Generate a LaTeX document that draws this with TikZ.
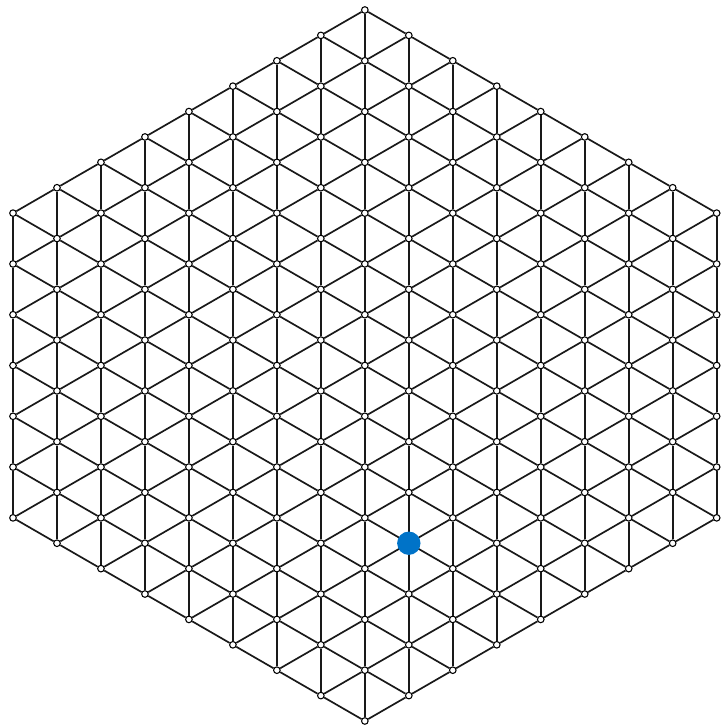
\documentclass[tikz,border=0pt]{standalone}
\usepackage{tikz}
\definecolor{siteblue}{RGB}{0,115,200}
\tikzset{
  site/.style={circle, draw=black, fill=white, line width=0.6pt,
    inner sep=0pt, minimum size=1.3mm},
  bond/.style={line width=0.95pt, black!90},
  marked/.style={circle, fill=siteblue, inner sep=0pt, minimum size=4.6mm}
}

\begin{document}
\begin{tikzpicture}[x=0.8660cm, y=1cm]

  \useasboundingbox (-0.256cm,-0.079cm) rectangle (13.935cm,14.197cm);

  % === SITES ===
  \foreach \i in {0,...,16} {
    \pgfmathtruncatemacro\len{14-abs(8-\i)}
    \foreach \k in {0,...,\len} {
      \node[site] (n-\i-\k) at (\i, {abs(8-\i)/2+\k}) {};
    }
  }

  % Vertical bonds
  \foreach \i in {0,...,16} {
    \pgfmathtruncatemacro\len{14-abs(8-\i)}
    \foreach \k in {1,...,\len} {
      \pgfmathtruncatemacro\dn{\k-1}
      \draw[bond] (n-\i-\dn) -- (n-\i-\k);
    }
  }

  % Slanted bonds to the next column
  \foreach \i in {0,...,15} {
    \pgfmathtruncatemacro\j{\i+1}
    \pgfmathtruncatemacro\len{14-abs(8-\i)}
    \foreach \k in {0,...,\len} {
      \pgfmathtruncatemacro\up{\k+1}
      \pgfmathtruncatemacro\dn{\k-1}
      \ifnum\i<8
        \draw[bond] (n-\i-\k) -- (n-\j-\up);
        \draw[bond] (n-\i-\k) -- (n-\j-\k);
      \else
        \ifnum\k<\len \draw[bond] (n-\i-\k) -- (n-\j-\k); \fi
        \ifnum\k>0 \draw[bond] (n-\i-\k) -- (n-\j-\dn); \fi
      \fi
    }
  }

  % Marked site
  \node[marked] (hit) at (n-9-3) {};

\end{tikzpicture}
\end{document}
